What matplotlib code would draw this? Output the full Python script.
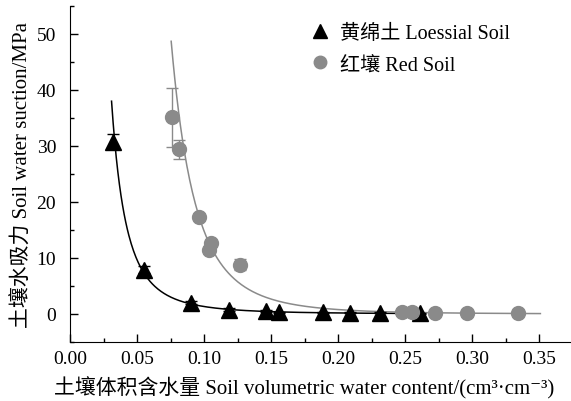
import numpy as np
import matplotlib
matplotlib.use('Agg')
import matplotlib.pyplot as plt
from matplotlib.ticker import MultipleLocator, FormatStrFormatter

plt.rcParams['font.family'] = ['Liberation Serif', 'Noto Sans CJK SC', 'DejaVu Serif']

# Loessial soil (triangles)
loess_theta = [0.032, 0.055, 0.090, 0.119, 0.146, 0.156, 0.189, 0.209, 0.231, 0.261]
loess_suction = [30.8, 7.9, 2.0, 0.8, 0.5, 0.3, 0.3, 0.2, 0.2, 0.1]
loess_err = [1.3, 0.6, 0.3, 0.2, 0.2, 0.1, 0.1, 0.1, 0.1, 0.1]

# Red soil (circles)
red_theta = [0.076, 0.081, 0.096, 0.105, 0.104, 0.127, 0.248, 0.255, 0.272, 0.296, 0.334]
red_suction = [35.1, 29.4, 17.4, 12.6, 11.4, 8.8, 0.3, 0.3, 0.2, 0.2, 0.2]
red_err = [5.2, 1.7, 0.5, 0.5, 0.5, 1.0, 0.1, 0.1, 0.1, 0.1, 0.1]

# power-law fits  s = a * theta^b
loess_fit = dict(a=38.0 * 0.031 ** 2.86, b=-2.86, x0=0.031, x1=0.265)
red_fit = dict(a=48.7 * 0.0755 ** 4.23, b=-4.23, x0=0.0755, x1=0.351)

gray = '#8a8a8a'

fig = plt.figure(figsize=(5.71, 4.02), dpi=100)
ax = fig.add_axes([0.1226, 0.1468, 0.8754, 0.8358])

for fit, col in [(loess_fit, 'black'), (red_fit, gray)]:
    xs = np.linspace(fit['x0'], fit['x1'], 400)
    ax.plot(xs, fit['a'] * xs ** fit['b'], color=col, lw=1.1, zorder=2)

ax.errorbar(loess_theta, loess_suction, yerr=loess_err, fmt='^', color='black',
            ms=11, capsize=4, elinewidth=1, capthick=1, zorder=3,
            label='黄绵土 Loessial Soil')
ax.errorbar(red_theta, red_suction, yerr=red_err, fmt='o', color=gray,
            ms=10, capsize=4, elinewidth=1, capthick=1, zorder=3,
            label='红壤 Red Soil')

ax.set_xlim(0, 0.373)
ax.set_ylim(-5, 55)
ax.xaxis.set_major_locator(MultipleLocator(0.05))
ax.xaxis.set_minor_locator(MultipleLocator(0.025))
ax.yaxis.set_major_locator(MultipleLocator(10))
ax.yaxis.set_minor_locator(MultipleLocator(5))
ax.xaxis.set_major_formatter(FormatStrFormatter('%.2f'))
ax.tick_params(which='major', direction='in', length=6, width=1, labelsize=14)
ax.tick_params(which='minor', direction='in', length=3, width=1)
ax.tick_params(axis='x', which='major', pad=6)
ax.tick_params(axis='y', which='major', pad=10)
for s in ['top', 'right']:
    ax.spines[s].set_visible(False)

ax.set_xlabel('土壤体积含水量 Soil volumetric water content/(cm³·cm⁻³)',
              fontsize=15)
ax.xaxis.set_label_coords(0.468, -0.1)
ax.set_ylabel('土壤水吸力 Soil water suction/MPa', fontsize=15, labelpad=3)

handles, labels = ax.get_legend_handles_labels()
handles = [h[0] for h in handles]
ax.legend(handles, labels, loc='upper left', bbox_to_anchor=(0.44, 1.0),
          frameon=False, fontsize=14.5, handletextpad=0.4, labelspacing=0.6,
          handlelength=1.2, markerscale=0.9)

fig.savefig('out.png', dpi=100)
